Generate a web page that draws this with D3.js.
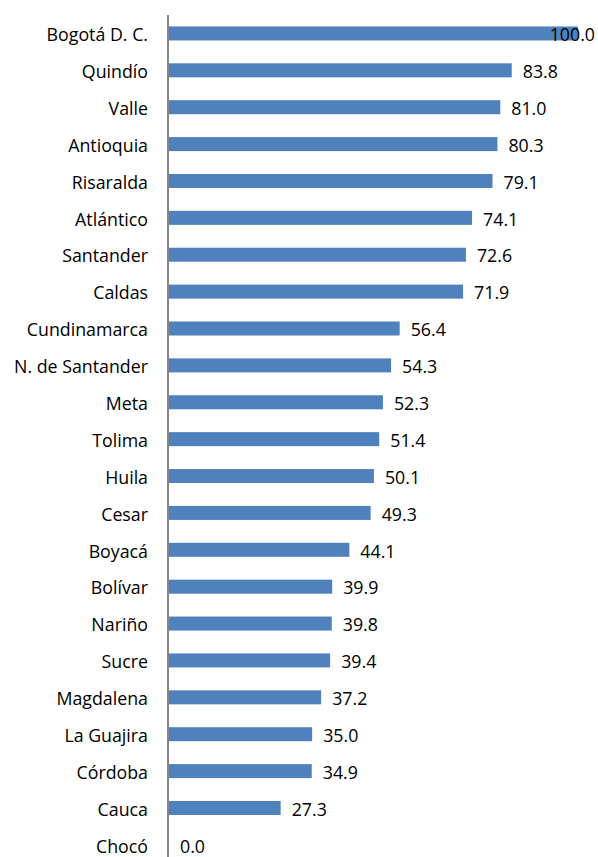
<!DOCTYPE html>
<html><head><meta charset="utf-8">
<script src="https://cdn.jsdelivr.net/npm/d3@7"></script>
<style>body{margin:0;background:#fff}svg{display:block}text{font-family:"Open Sans","Noto Sans",sans-serif;fill:#000}</style>
</head><body>
<svg id="c" width="598" height="857"></svg>
<script>
const categories = ["Bogotá D. C.","Quindío","Valle","Antioquia","Risaralda","Atlántico","Santander","Caldas","Cundinamarca","N. de Santander","Meta","Tolima","Huila","Cesar","Boyacá","Bolívar","Nariño","Sucre","Magdalena","La Guajira","Córdoba","Cauca","Chocó"];
const values = [100.0,83.8,81.0,80.3,79.1,74.1,72.6,71.9,56.4,54.3,52.3,51.4,50.1,49.3,44.1,39.9,39.8,39.4,37.2,35.0,34.9,27.3,0.0];

const svg = d3.select("#c");
const x = d3.scaleLinear().domain([0,100]).range([169,578]);
const y = d3.scaleBand().domain(categories).range([15,863.3]).paddingInner(0.62).paddingOuter(0.31);

svg.selectAll("rect.bar").data(categories).enter().append("rect")
  .attr("class","bar")
  .attr("x", x(0))
  .attr("y", d => y(d))
  .attr("width", (d,i) => x(values[i]) - x(0))
  .attr("height", y.bandwidth())
  .attr("fill", "#4F81BD");

svg.append("line").attr("x1",168).attr("x2",168).attr("y1",15).attr("y2",863)
  .attr("stroke","#868686").attr("stroke-width",2);

svg.selectAll("text.cat").data(categories).enter().append("text")
  .attr("class","cat")
  .attr("x", 148)
  .attr("y", d => y(d) + y.bandwidth()/2 + 1.5)
  .attr("dy","0.35em")
  .attr("text-anchor","end")
  .attr("font-size","17.8px")
  .text(d => d);

svg.selectAll("text.val").data(categories).enter().append("text")
  .attr("class","val")
  .attr("y", d => y(d) + y.bandwidth()/2 + 1.5)
  .attr("dy","0.35em")
  .attr("font-size","17.8px")
  .text((d,i) => values[i].toFixed(1))
  .each(function(d,i){
    const t = d3.select(this);
    const w = this.getComputedTextLength();
    let px = x(values[i]) + 11;
    if (px + w > 595) { t.attr("text-anchor","end").attr("x",595); }
    else t.attr("x", px);
  });
</script>
</body></html>
